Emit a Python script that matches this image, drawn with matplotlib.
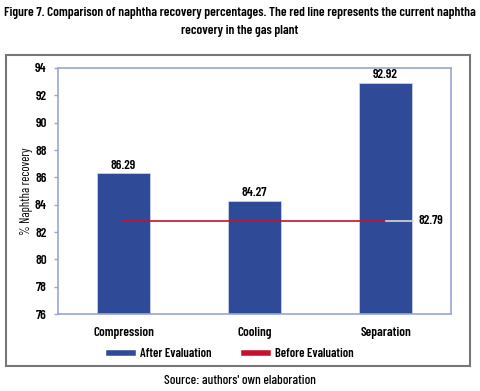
import matplotlib
matplotlib.use("Agg")
import matplotlib.pyplot as plt
from matplotlib.patches import Rectangle
from matplotlib.lines import Line2D

categories = ["Compression", "Cooling", "Separation"]
after_eval = [86.29, 84.27, 92.92]
before_eval = 82.79
yticks = [76, 78, 80, 82, 84, 86, 88, 90, 92, 94]

BLUE = "#2f4a96"
RED = "#c8102e"
SPINE = "#9aa6d4"

plt.rcParams["font.family"] = ["Barlow Condensed", "DejaVu Sans"]
plt.rcParams["font.weight"] = 600

fig = plt.figure(figsize=(4.8, 3.91), dpi=100)
ax = fig.add_axes([0.1208, 0.1969, 0.8188, 0.6292])

x = list(range(len(categories)))
ax.bar(x, after_eval, width=0.4, color=BLUE, edgecolor="#c9d0ea", linewidth=0.6, zorder=2)
for xi, v in zip(x, after_eval):
    ax.text(xi, v + 0.12, f"{v:.2f}", ha="center", va="bottom", fontsize=9.5)

# current recovery line from first to last bar centre, then a light leader to the label
ax.plot([x[0], x[-1]], [before_eval, before_eval], color=RED, lw=1.2, zorder=3)
ax.plot([x[-1], x[-1] + 0.21], [before_eval, before_eval], color="#d8d8d8", lw=1.2, zorder=3)
ax.text(x[-1] + 0.25, before_eval, f"{before_eval:.2f}", ha="left", va="center", fontsize=9.5)

ax.set_xlim(-0.5, 2.5)
ax.set_ylim(76, 94)
ax.set_yticks(yticks)
ax.set_xticks(x)
ax.set_xticklabels(categories, fontsize=9.5)
ax.tick_params(axis="y", labelsize=9.5, length=3, color=SPINE, width=1, pad=5)
ax.tick_params(axis="x", length=0, pad=9)
for s in ax.spines.values():
    s.set_color(SPINE)
    s.set_linewidth(1.2)
ax.set_ylabel("% Naphtha recovery", fontsize=9)
ax.yaxis.set_label_coords(-0.063, 0.5)

handles = [Line2D([], [], color=BLUE, lw=4), Line2D([], [], color=RED, lw=4)]
fig.legend(handles, ["After Evaluation", "Before Evaluation"], loc="center",
           bbox_to_anchor=(0.482, 0.094), ncol=2, frameon=False, fontsize=9,
           handlelength=1.9, columnspacing=2.6, handletextpad=0.6)

# outer frame
fig.patches.append(Rectangle((6 / 480, 1 - 366 / 391), 464 / 480, 311 / 391,
                             transform=fig.transFigure, fill=False,
                             edgecolor="#777777", lw=1.5))

fig.text(0.5, 1 - 13 / 391, "Figure 7. Comparison of naphtha recovery percentages. The red line represents the current naphtha",
         ha="center", va="center", fontsize=9.6)
fig.text(0.5, 1 - 31 / 391, "recovery in the gas plant", ha="center", va="center", fontsize=9.6)
fig.text(0.5, 1 - 381 / 391, "Source: authors' own elaboration", ha="center", va="center",
         fontsize=9.5, fontweight=500)

fig.savefig("out.png", dpi=100)
